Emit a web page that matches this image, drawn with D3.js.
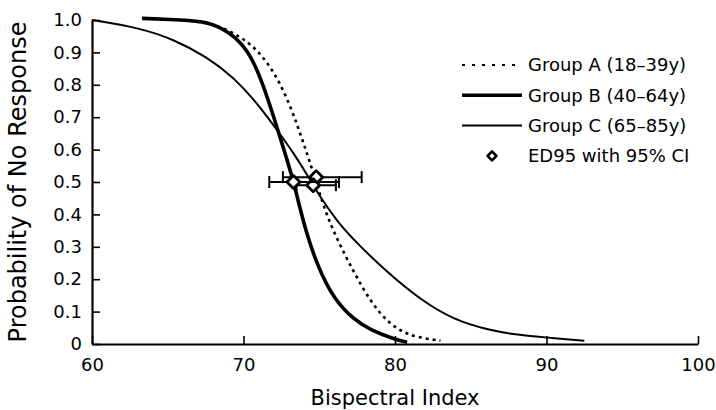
<!DOCTYPE html>
<html>
<head>
<meta charset="utf-8">
<script src="https://cdn.jsdelivr.net/npm/d3@7"></script>
<style>
  body { margin: 0; background: #fff; }
  svg { display: block; font-family: "DejaVu Sans", sans-serif; }
</style>
</head>
<body>
<div id="chart"></div>
<script>

// Data: [bispectral index, probability of no response]
const groupA = [[66,1.0],[68,0.99],[69.8,0.95],[71.1,0.9],[72.2,0.825],[73.0,0.744],[73.6,0.67],[74.1,0.60],[74.6,0.53],[75.3,0.42],[76.2,0.32],[77.3,0.22],[78.4,0.13],[79.5,0.068],[80.4,0.04],[81.3,0.022],[83.0,0.01]];
const groupB = [[63.3,1.005],[66,1.0],[67.6,0.995],[69.1,0.963],[70.3,0.907],[71.1,0.825],[71.8,0.73],[72.4,0.64],[72.9,0.565],[73.3,0.50],[73.6,0.444],[74.1,0.35],[74.9,0.238],[76.0,0.136],[77.3,0.075],[78.4,0.043],[79.9,0.016],[80.8,0.005]];
const groupC = [[60,1.0],[63.2,0.975],[65.4,0.94],[67.6,0.886],[69.3,0.825],[70.9,0.744],[72.3,0.655],[73.3,0.59],[74.3,0.515],[75.1,0.45],[76.2,0.378],[77.3,0.32],[79.5,0.22],[81.7,0.136],[83.9,0.074],[86.2,0.043],[88.1,0.028],[90,0.02],[92.5,0.01]];

// ED95 points with 95% CI
const ed95 = [
  {group: "A", x: 74.8, y: 0.515, lo: 72.6, hi: 77.8},
  {group: "C", x: 74.6, y: 0.49, lo: 73.5, hi: 76.1},
  {group: "B", x: 73.3, y: 0.50, lo: 71.7, hi: 76.3}
];

const xTicks = [60, 70, 80, 90, 100];
const yTicks = [0, 0.1, 0.2, 0.3, 0.4, 0.5, 0.6, 0.7, 0.8, 0.9, 1.0];

const legendItems = [
  {label: "Group A (18\u201339y)", type: "A"},
  {label: "Group B (40\u201364y)", type: "B"},
  {label: "Group C (65\u201385y)", type: "C"},
  {label: "ED95 with 95% CI", type: "ED"}
];

const width = 716;
const height = 410;
const margin = {top: 20, right: 18, bottom: 66, left: 92};

const x = d3.scaleLinear().domain([60, 100]).range([margin.left, width - margin.right]);
const y = d3.scaleLinear().domain([0, 1]).range([height - margin.bottom, margin.top]);

const svg = d3.select("#chart")
  .append("svg")
    .attr("width", width)
    .attr("height", height);

// Axes
const xAxis = svg.append("g")
  .attr("transform", `translate(0,${y(0)})`)
  .call(d3.axisBottom(x).tickValues(xTicks).tickSize(-8).tickSizeOuter(0).tickPadding(14));

const yAxis = svg.append("g")
  .attr("transform", `translate(${x(60)},0)`)
  .call(d3.axisLeft(y).tickValues(yTicks).tickSize(-8).tickSizeOuter(0).tickPadding(10)
    .tickFormat(d => d === 0 ? "0" : d3.format(".1f")(d)));

[xAxis, yAxis].forEach(g => {
  g.select(".domain").attr("stroke", "#000").attr("stroke-width", 2.2);
  g.selectAll(".tick line").attr("stroke", "#000").attr("stroke-width", 1.6);
  g.selectAll(".tick text")
    .attr("fill", "#000")
    .style("font-size", "18px")
    .style("font-family", "DejaVu Sans, sans-serif");
});

// Axis titles
svg.append("text")
  .attr("x", x(80))
  .attr("y", 405)
  .attr("text-anchor", "middle")
  .style("font-size", "21px")
  .text("Bispectral Index");

svg.append("text")
  .attr("transform", `translate(26,${(y(0) + y(1)) / 2}) rotate(-90)`)
  .attr("text-anchor", "middle")
  .style("font-size", "24px")
  .text("Probability of No Response");

// Curves
const line = d3.line()
  .x(d => x(d[0]))
  .y(d => y(d[1]))
  .curve(d3.curveBasis);

svg.append("path")
  .datum(groupC)
  .attr("fill", "none")
  .attr("stroke", "#000")
  .attr("stroke-width", 2)
  .attr("d", line);

svg.append("path")
  .datum(groupA)
  .attr("fill", "none")
  .attr("stroke", "#000")
  .attr("stroke-width", 2.6)
  .attr("stroke-dasharray", "3,4")
  .attr("d", line);

svg.append("path")
  .datum(groupB)
  .attr("fill", "none")
  .attr("stroke", "#000")
  .attr("stroke-width", 3.6)
  .attr("d", line);

// ED95 with CI
const ed = svg.selectAll(".ed")
  .data(ed95)
  .join("g")
    .attr("class", "ed");

ed.append("line")
  .attr("x1", d => x(d.lo))
  .attr("x2", d => x(d.hi))
  .attr("y1", d => y(d.y))
  .attr("y2", d => y(d.y))
  .attr("stroke", "#000")
  .attr("stroke-width", 2);

ed.selectAll(".cap")
  .data(d => [d.lo, d.hi].map(v => ({v, y: d.y})))
  .join("line")
    .attr("class", "cap")
    .attr("x1", d => x(d.v))
    .attr("x2", d => x(d.v))
    .attr("y1", d => y(d.y) - 6)
    .attr("y2", d => y(d.y) + 6)
    .attr("stroke", "#000")
    .attr("stroke-width", 2);

const diamond = d3.symbol().type(d3.symbolSquare).size(85);

ed.append("path")
  .attr("d", diamond)
  .attr("transform", d => `translate(${x(d.x)},${y(d.y)}) rotate(45)`)
  .attr("fill", "#fff")
  .attr("stroke", "#000")
  .attr("stroke-width", 2.8)
  .attr("stroke-linejoin", "round");

// Legend
const legend = svg.append("g").attr("transform", "translate(462,65)");

const rows = legend.selectAll(".row")
  .data(legendItems)
  .join("g")
    .attr("class", "row")
    .attr("transform", (d, i) => `translate(0,${i * 30.3})`);

rows.filter(d => d.type !== "ED")
  .append("line")
    .attr("x1", 0)
    .attr("x2", d => d.type === "A" ? 54 : 60)
    .attr("y1", 0)
    .attr("y2", 0)
    .attr("stroke", "#000")
    .attr("stroke-width", d => d.type === "B" ? 3.6 : d.type === "C" ? 2 : 2.2)
    .attr("stroke-dasharray", d => d.type === "A" ? "3,7" : null);

rows.filter(d => d.type === "ED")
  .append("path")
    .attr("d", d3.symbol().type(d3.symbolSquare).size(40))
    .attr("transform", "translate(30,0) rotate(45)")
    .attr("fill", "#fff")
    .attr("stroke", "#000")
    .attr("stroke-width", 2.6)
    .attr("stroke-linejoin", "round");

rows.append("text")
  .attr("x", 66)
  .attr("y", 0)
  .attr("dy", "0.36em")
  .style("font-size", "18px")
  .text(d => d.label);

</script>
</body>
</html>
